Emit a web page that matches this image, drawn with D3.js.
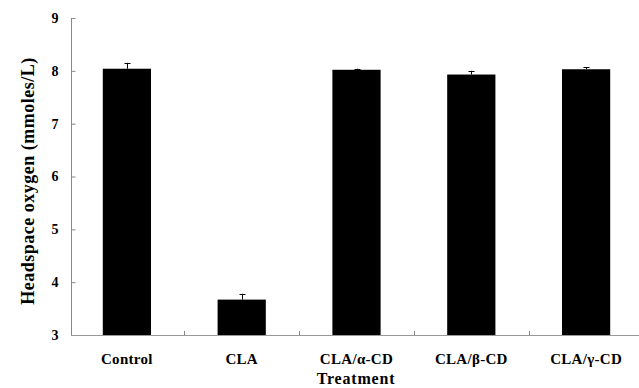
<!DOCTYPE html>
<html>
<head>
<meta charset="utf-8">
<script src="https://cdn.jsdelivr.net/npm/d3@7"></script>
<style>
  html, body { margin: 0; padding: 0; background: #fff; }
  text { font-family: "Liberation Serif", "Times New Roman", serif; font-weight: bold; }
</style>
</head>
<body>
<div id="chart"></div>
<script>
// Values
const treatments = ["Control", "CLA", "CLA/α-CD", "CLA/β-CD", "CLA/γ-CD"];
const oxygen = [8.04, 3.67, 8.02, 7.93, 8.03];
const errors = [0.11, 0.11, 0.02, 0.07, 0.04];
const yTicks = [3, 4, 5, 6, 7, 8, 9];

const width = 639;
const height = 388;

const data = treatments.map((t, i) => ({ name: t, value: oxygen[i], err: errors[i] }));

const svg = d3.select("#chart")
  .append("svg")
  .attr("width", width)
  .attr("height", height);

// scales
const x = d3.scaleBand()
  .domain(treatments)
  .range([69.5, 643.5])
  .paddingInner(0.58)
  .paddingOuter(0.29);

const y = d3.scaleLinear()
  .domain([3, 9])
  .range([335, 18]);

// bars
svg.append("g")
  .selectAll("rect")
  .data(data)
  .join("rect")
  .attr("x", d => x(d.name))
  .attr("y", d => y(d.value))
  .attr("width", x.bandwidth())
  .attr("height", d => y(3) - y(d.value))
  .attr("fill", "#000");

// error bars (upper half only, like the original)
const eb = svg.append("g").attr("stroke", "#000").attr("stroke-width", 1);
data.forEach(d => {
  const cx = Math.round(x(d.name) + x.bandwidth() / 2) + 0.5;
  eb.append("line")
    .attr("x1", cx).attr("x2", cx)
    .attr("y1", y(d.value)).attr("y2", y(d.value + d.err));
  eb.append("line")
    .attr("x1", cx - 3).attr("x2", cx + 3)
    .attr("y1", Math.round(y(d.value + d.err)) + 0.5)
    .attr("y2", Math.round(y(d.value + d.err)) + 0.5);
});

// y axis
svg.append("g")
  .attr("transform", "translate(71.5,0)")
  .call(d3.axisLeft(y).tickValues(yTicks).tickFormat(d3.format("d")).tickSize(-4).tickPadding(13))
  .call(g => g.select(".domain").attr("stroke", "#888").attr("d", `M0,${y(9)}V${y(3)}`))
  .call(g => g.selectAll(".tick line").attr("stroke", "#888"))
  .call(g => g.selectAll(".tick text")
    .attr("fill", "#000")
    .style("font-size", "14px")
    .style("font-family", "'Liberation Serif', serif")
    .style("font-weight", "bold"));

// x axis line and ticks between categories
svg.append("line")
  .attr("x1", 71).attr("x2", width)
  .attr("y1", y(3) + 0.5).attr("y2", y(3) + 0.5)
  .attr("stroke", "#999");

const gap = (x.step() - x.bandwidth()) / 2;
treatments.slice(1).forEach(t => {
  const bx = Math.round(x(t) - gap) + 0.5;
  svg.append("line")
    .attr("x1", bx).attr("x2", bx)
    .attr("y1", y(3)).attr("y2", y(3) - 4)
    .attr("stroke", "#888");
});

// category labels
svg.append("g")
  .selectAll("text")
  .data(treatments)
  .join("text")
  .attr("x", d => x(d) + x.bandwidth() / 2)
  .attr("y", 364)
  .attr("text-anchor", "middle")
  .style("font-size", "15px")
  .style("letter-spacing", "0.3px")
  .text(d => d);

// axis titles
svg.append("text")
  .attr("x", 356)
  .attr("y", 384)
  .attr("text-anchor", "middle")
  .style("font-size", "16px")
  .style("letter-spacing", "0.8px")
  .text("Treatment");

svg.append("text")
  .attr("transform", "translate(34,181) rotate(-90)")
  .attr("text-anchor", "middle")
  .style("font-size", "18px")
  .style("letter-spacing", "0.5px")
  .text("Headspace oxygen (mmoles/L)");
</script>
</body>
</html>
